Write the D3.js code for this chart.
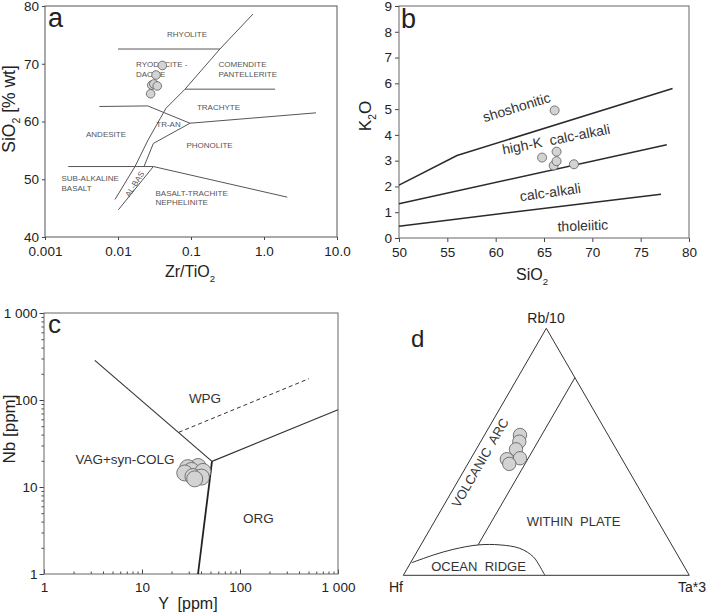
<!DOCTYPE html>
<html>
<head>
<meta charset="utf-8">
<script src="https://cdn.jsdelivr.net/npm/d3@7"></script>
<style>
  body { margin: 0; background: #fff; }
  text { font-family: "Liberation Sans", Arial, sans-serif; white-space: pre; }
</style>
</head>
<body>
<svg id="fig" width="709" height="613"></svg>
<script>
// ---- panel a : SiO2 vs Zr/TiO2 ----
const aXTicks = [0.001, 0.01, 0.1, 1, 10];
const aXTickLabels = ["0.001", "0.01", "0.1", "1.0", "10.0"];
const aYTicks = [40, 50, 60, 70, 80];
const aPoints = [[0.0405, 69.7], [0.0332, 68.05], [0.029, 66.3], [0.031, 66.5], [0.0345, 66.15], [0.028, 64.8]];
const aRhyoliteLine = [[0.01, 72.55], [0.249, 72.55]];
const aMainLine = [[0.706, 78.6], [0.249, 72.55], [0.0828, 65.6], [0.0455, 62.3], [0.0258, 56.8], [0.0171, 52.2], [0.0091, 46.5]];
const aComenditeLine = [[0.0828, 65.6], [1.42, 65.6]];
const aAndesiteLine = [[0.00555, 62.6], [0.0255, 62.7], [0.0968, 59.7]];
const aTrachyteLine = [[0.0968, 59.7], [5.15, 61.5]];
const aPhonoliteLine = [[0.0968, 59.7], [0.0305, 56.2], [0.0227, 52.2]];
const aAlkBasLine = [[0.0305, 52.2], [0.0101, 44.7]];
const aBasaltLine = [[0.00208, 52.2], [0.0305, 52.2], [2.08, 46.9]];

// ---- panel b : K2O vs SiO2 ----
const bXTicks = [50, 55, 60, 65, 70, 75, 80];
const bYTicks = [0, 1, 2, 3, 4, 5, 6, 7, 8, 9];
const bPoints = [[66.1, 4.95], [64.8, 3.12], [66.3, 3.35], [66.0, 2.81], [66.3, 2.98], [68.1, 2.86]];
const bShoshoniteLine = [[50, 2.05], [56, 3.2], [78.3, 5.8]];
const bHighKLine = [[50, 1.33], [77.7, 3.62]];
const bCalcAlkaliLine = [[50, 0.46], [77.1, 1.70]];

// ---- panel c : Nb vs Y ----
const cTicks = [1, 10, 100, 1000];
const cTickLabels = ["1", "10", "100", "1 000"];
const cPoints = [[37.3, 17.2], [29.3, 16.7], [31.9, 15.5], [41.9, 15.1], [27.3, 14.5], [33.1, 13.2], [40.4, 13.0], [34.5, 12.4]];
const cWpgLine = [[3.3, 286], [51.8, 19.7]];
const cOrgLine = [[51.8, 19.7], [1000, 77.4]];
const cVagLine = [[51.8, 19.7], [37.3, 1]];
const cDashedLine = [[23.7, 42.5], [506, 176]];

// ---- panel d : Rb/10 - Hf - Ta*3 ternary, rows are [Hf, Rb/10, Ta*3] ----
const dPoints = [[0.308, 0.568, 0.124], [0.324, 0.541, 0.135], [0.351, 0.510, 0.139],
                 [0.355, 0.474, 0.171], [0.403, 0.470, 0.127], [0.404, 0.451, 0.145]];
const dTriangle = [[1, 0, 0], [0, 1, 0], [0, 0, 1], [1, 0, 0]];
const dDivider = [[0.0, 0.8, 0.2], [0.677, 0.123, 0.2]];
const dOceanRidge = [[0.945, 0.051, 0.004], [0.854, 0.082, 0.064], [0.773, 0.105, 0.122],
                     [0.676, 0.123, 0.201], [0.600, 0.123, 0.277], [0.538, 0.109, 0.353],
                     [0.508, 0.075, 0.417], [0.5045, 0.035, 0.4605], [0.505, 0, 0.495]];

const svg = d3.select("#fig");
const dotFill = "#d3d3d3", dotStroke = "#5a5a5a";

// text with a subscript part: parts = [[string, isSub], ...]
function richText(g, parts, size) {
  const t = g.append("text").attr("font-size", size).attr("fill", "#222");
  let shifted = false;
  parts.forEach(p => {
    const s = t.append("tspan").text(p[0]);
    if (p[1] && !shifted) { s.attr("dy", size * 0.3).attr("font-size", size * 0.6); shifted = true; }
    else if (!p[1] && shifted) { s.attr("dy", -size * 0.3); shifted = false; }
  });
  return t;
}

function label(g, txt, x, y, size, opts) {
  opts = opts || {};
  return g.append("text").attr("x", x).attr("y", y)
    .attr("font-size", size).attr("fill", opts.fill || "#333")
    .attr("text-anchor", opts.anchor || "middle")
    .attr("transform", opts.rotate ? `rotate(${opts.rotate},${x},${y})` : null)
    .text(txt);
}

function styleAxis(g, size) {
  g.select(".domain").remove();
  g.selectAll("text").attr("font-size", size).attr("fill", "#222")
    .attr("font-family", "Liberation Sans, Arial, sans-serif");
  g.selectAll("line").attr("stroke", "#444");
}

function frame(g, xs, ys, color) {
  const r = xs.range(), q = ys.range();
  g.append("rect").attr("x", r[0]).attr("y", q[1])
    .attr("width", r[1] - r[0]).attr("height", q[0] - q[1])
    .attr("fill", "none").attr("stroke", color).attr("stroke-width", 1);
}

/* ================= panel a ================= */
{
  const g = svg.append("g");
  const x = d3.scaleLog().domain([0.001, 10]).range([45, 337]);
  const y = d3.scaleLinear().domain([40, 80]).range([237, 6]);
  const line = d3.line().x(d => x(d[0])).y(d => y(d[1]));

  g.append("g").attr("transform", "translate(0,237)")
    .call(d3.axisBottom(x).tickValues(aXTicks).tickFormat((d, i) => aXTickLabels[i]).tickSize(3).tickPadding(6))
    .call(a => styleAxis(a, 13.5));
  g.append("g").attr("transform", "translate(45,0)")
    .call(d3.axisLeft(y).tickValues(aYTicks).tickSize(3).tickPadding(3))
    .call(a => styleAxis(a, 13.5));
  frame(g, x, y, "#555");

  [aRhyoliteLine, aMainLine, aComenditeLine, aAndesiteLine, aTrachyteLine,
   aPhonoliteLine, aAlkBasLine, aBasaltLine].forEach(l =>
    g.append("path").attr("d", line(l)).attr("fill", "none").attr("stroke", "#555").attr("stroke-width", 1));

  const f = 8, c = "#555";
  label(g, "RHYOLITE", 187, 37, f, {fill: c});
  label(g, "RYODACITE -", 136, 67, f, {fill: c, anchor: "start"});
  label(g, "DACITE", 136, 77, f, {fill: c, anchor: "start"});
  label(g, "COMENDITE", 218.5, 67, f, {fill: c, anchor: "start"});
  label(g, "PANTELLERITE", 218.5, 76.5, f, {fill: c, anchor: "start"});
  label(g, "TRACHYTE", 218.5, 110, f, {fill: c});
  label(g, "TR-AN", 168.5, 127, f, {fill: c});
  label(g, "ANDESITE", 106, 136.5, f, {fill: c});
  label(g, "PHONOLITE", 209.5, 147.5, f, {fill: c});
  label(g, "SUB-ALKALINE", 61.5, 181, f, {fill: c, anchor: "start"});
  label(g, "BASALT", 61.5, 190.5, f, {fill: c, anchor: "start"});
  label(g, "AL-BAS", 137, 185.5, f, {fill: c, rotate: -58});
  label(g, "BASALT-TRACHITE", 155.5, 196, f, {fill: c, anchor: "start"});
  label(g, "NEPHELINITE", 155.5, 205, f, {fill: c, anchor: "start"});

  g.selectAll("circle").data(aPoints).join("circle")
    .attr("cx", d => x(d[0])).attr("cy", d => y(d[1])).attr("r", 4.3)
    .attr("fill", dotFill).attr("stroke", dotStroke).attr("stroke-width", 0.8);

  label(g, "a", 48, 27, 27, {fill: "#222", anchor: "start"});
  richText(g, [["Zr/TiO", false], ["2", true]], 16).attr("x", 190).attr("y", 277).attr("text-anchor", "middle");
  richText(g, [["SiO", false], ["2", true], [" [% wt]", false]], 17.5)
    .attr("text-anchor", "middle").attr("transform", "translate(15,109) rotate(-90)");
}

/* ================= panel b ================= */
{
  const g = svg.append("g");
  const x = d3.scaleLinear().domain([50, 80]).range([399, 689]);
  const y = d3.scaleLinear().domain([0, 9]).range([238, 6]);
  const line = d3.line().x(d => x(d[0])).y(d => y(d[1]));

  g.append("g").attr("transform", "translate(0,238)")
    .call(d3.axisBottom(x).tickValues(bXTicks).tickSize(4).tickPadding(5))
    .call(a => styleAxis(a, 13.5));
  g.append("g").attr("transform", "translate(399,0)")
    .call(d3.axisLeft(y).tickValues(bYTicks).tickSize(4).tickPadding(3))
    .call(a => styleAxis(a, 13.5));
  frame(g, x, y, "#666");

  [bShoshoniteLine, bHighKLine, bCalcAlkaliLine].forEach(l =>
    g.append("path").attr("d", line(l)).attr("fill", "none").attr("stroke", "#2a2a2a").attr("stroke-width", 1.5));

  label(g, "shoshonitic", 518, 112, 14, {rotate: -17});
  label(g, "high-K  calc-alkali", 557, 144, 14, {rotate: -11});
  label(g, "calc-alkali", 551, 197, 14, {rotate: -8});
  label(g, "tholeiitic", 583, 230.5, 14, {rotate: -2});

  g.selectAll("circle").data(bPoints).join("circle")
    .attr("cx", d => x(d[0])).attr("cy", d => y(d[1])).attr("r", 4.5)
    .attr("fill", dotFill).attr("stroke", dotStroke).attr("stroke-width", 0.8);

  label(g, "b", 401, 28, 27, {fill: "#222", anchor: "start"});
  richText(g, [["SiO", false], ["2", true]], 16).attr("x", 532).attr("y", 280).attr("text-anchor", "middle");
  richText(g, [["K", false], ["2", true], ["O", false]], 17)
    .attr("text-anchor", "middle").attr("transform", "translate(371,116) rotate(-90)");
}

/* ================= panel c ================= */
{
  const g = svg.append("g");
  const x = d3.scaleLog().domain([1, 1000]).range([44, 338]);
  const y = d3.scaleLog().domain([1, 1000]).range([574, 313]);
  const line = d3.line().x(d => x(d[0])).y(d => y(d[1]));
  const minor = x.ticks().filter(v => !cTicks.includes(v));

  g.append("g").attr("transform", "translate(0,574)")
    .call(d3.axisBottom(x).tickValues(minor).tickFormat("").tickSizeInner(-2.5).tickSizeOuter(0))
    .call(a => styleAxis(a, 13.5));
  g.append("g").attr("transform", "translate(0,574)")
    .call(d3.axisBottom(x).tickValues(cTicks).tickFormat((d, i) => cTickLabels[i]).tickSizeInner(-4.5).tickSizeOuter(0).tickPadding(8))
    .call(a => styleAxis(a, 13.5));
  g.append("g").attr("transform", "translate(44,0)")
    .call(d3.axisLeft(y).tickValues(minor).tickFormat("").tickSize(2.5))
    .call(a => styleAxis(a, 13.5));
  g.append("g").attr("transform", "translate(44,0)")
    .call(d3.axisLeft(y).tickValues(cTicks).tickFormat((d, i) => cTickLabels[i]).tickSize(4.5).tickPadding(2))
    .call(a => styleAxis(a, 13.5));
  frame(g, x, y, "#666");

  g.append("path").attr("d", line(cWpgLine)).attr("fill", "none").attr("stroke", "#333").attr("stroke-width", 1.1);
  g.append("path").attr("d", line(cOrgLine)).attr("fill", "none").attr("stroke", "#333").attr("stroke-width", 1.1);
  g.append("path").attr("d", line(cVagLine)).attr("fill", "none").attr("stroke", "#222").attr("stroke-width", 1.8);
  g.append("path").attr("d", line(cDashedLine)).attr("fill", "none").attr("stroke", "#333")
    .attr("stroke-width", 1).attr("stroke-dasharray", "4,3");

  label(g, "WPG", 205, 403, 13.5);
  label(g, "VAG+syn-COLG", 125, 464, 13.5);
  label(g, "ORG", 258.5, 522.5, 13.5);

  g.selectAll("circle").data(cPoints).join("circle")
    .attr("cx", d => x(d[0])).attr("cy", d => y(d[1])).attr("r", 8)
    .attr("fill", dotFill).attr("stroke", dotStroke).attr("stroke-width", 0.8);

  label(g, "c", 48, 333, 26, {fill: "#222", anchor: "start"});
  label(g, "Y  [ppm]", 188, 609, 16, {fill: "#222"});
  label(g, "Nb [ppm]", 15, 429, 17, {fill: "#222", rotate: -90});
}

/* ================= panel d ================= */
{
  const g = svg.append("g");
  // horizontal position = Ta + Rb/2, vertical = Rb
  const tx = d3.scaleLinear().domain([0, 1]).range([403.3, 689.3]);
  const ty = d3.scaleLinear().domain([0, 1]).range([575.3, 328.3]);
  const px = d => tx(d[2] + d[1] / 2), py = d => ty(d[1]);
  const line = d3.line().x(px).y(py);

  g.append("path").attr("d", line(dTriangle)).attr("fill", "none").attr("stroke", "#333").attr("stroke-width", 1);
  g.append("path").attr("d", line(dDivider)).attr("fill", "none").attr("stroke", "#333").attr("stroke-width", 1);
  g.append("path").attr("d", line.curve(d3.curveCatmullRom)(dOceanRidge))
    .attr("fill", "none").attr("stroke", "#333").attr("stroke-width", 1);
  line.curve(d3.curveLinear);

  label(g, "VOLCANIC  ARC", 484, 465, 13, {rotate: -60});
  label(g, "WITHIN  PLATE", 573.5, 525.5, 13);
  label(g, "OCEAN  RIDGE", 478.5, 570.5, 13);

  g.selectAll("circle").data(dPoints).join("circle")
    .attr("cx", px).attr("cy", py).attr("r", 6.7)
    .attr("fill", dotFill).attr("stroke", dotStroke).attr("stroke-width", 0.8);

  label(g, "Rb/10", 546, 323, 14, {fill: "#222"});
  label(g, "Hf", 396, 592, 14, {fill: "#222"});
  label(g, "Ta*3", 692, 592, 14, {fill: "#222"});
  label(g, "d", 411, 346.5, 24, {fill: "#222", anchor: "start"});
}
</script>
</body>
</html>
